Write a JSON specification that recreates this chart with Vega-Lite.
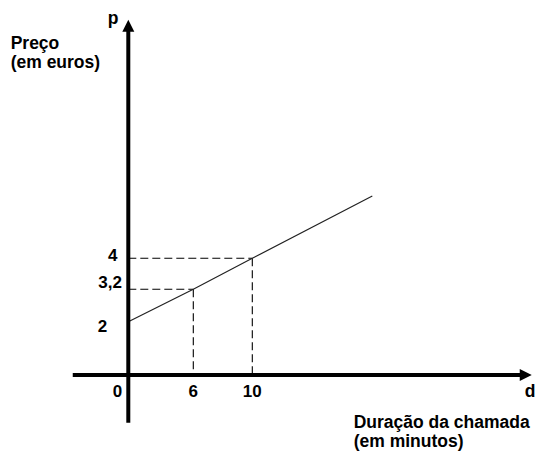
{
  "$schema": "https://vega.github.io/schema/vega-lite/v6.json",
  "width": 537,
  "height": 457,
  "padding": 0,
  "autosize": {"type": "none"},
  "background": "white",
  "config": {
    "view": {"stroke": null},
    "text": {"font": "Liberation Sans", "fontWeight": "bold", "color": "#000"}
  },
  "datasets": {
    "axes": [
      {"d": -4.33, "p": 0, "d2": 32.8, "p2": 0},
      {"d": 0, "p": -1.745, "d2": 0, "p2": 11.47}
    ],
    "guides": [
      {"d": 0, "p": 4, "d2": 10, "p2": 4},
      {"d": 10, "p": 4, "d2": 10, "p2": 0},
      {"d": 0, "p": 3.2, "d2": 6, "p2": 3.2},
      {"d": 6, "p": 3.2, "d2": 6, "p2": 0}
    ],
    "price": [
      {"d": 0, "p": 2},
      {"d": 6, "p": 3.2},
      {"d": 10, "p": 4},
      {"d": 20, "p": 6}
    ],
    "titles": [
      {"d": -9.17, "p": 10.725, "label": "Preço"},
      {"d": -9.17, "p": 10.1, "label": "(em euros)"},
      {"d": 18.45, "p": -1.94, "label": "Duração da chamada"},
      {"d": 18.45, "p": -2.63, "label": "(em minutos)"}
    ],
    "letters": [
      {"d": -1.19, "p": 11.53, "label": "p"},
      {"d": 33.14, "p": -0.8, "label": "d"}
    ]
  },
  "encoding": {
    "x": {
      "field": "d",
      "type": "quantitative",
      "axis": null,
      "scale": {"domain": [-10, 0, 6, 10, 20, 33.725], "range": [0, 128.3, 193.3, 252.3, 372.3, 537], "zero": false, "nice": false}
    },
    "y": {
      "field": "p",
      "type": "quantitative",
      "axis": null,
      "scale": {"domain": [-3, 0, 2, 3.2, 4, 6, 12.3], "range": [457, 375, 321.7, 289.3, 258.3, 196, 0], "zero": false, "nice": false}
    }
  },
  "layer": [
    {
      "data": {"name": "guides"},
      "mark": {"type": "rule", "strokeDash": [8, 4], "strokeWidth": 1.1, "color": "#000"},
      "encoding": {"x2": {"field": "d2"}, "y2": {"field": "p2"}}
    },
    {
      "data": {"name": "price"},
      "mark": {"type": "line", "strokeWidth": 1.2, "color": "#222"},
      "encoding": {}
    },
    {
      "data": {"name": "axes"},
      "mark": {"type": "rule", "strokeWidth": 4, "color": "#000"},
      "encoding": {"x2": {"field": "d2"}, "y2": {"field": "p2"}}
    },
    {
      "data": {"values": [{"d": 32.79, "p": 0}]},
      "mark": {"type": "point", "shape": "M 1 0 L -1 1 L -1 -1 Z", "size": 144, "filled": true, "color": "#000", "opacity": 1}
    },
    {
      "data": {"values": [{"d": 0, "p": 11.47}]},
      "mark": {"type": "point", "shape": "M 0 -1 L 1 1 L -1 1 Z", "size": 144, "filled": true, "color": "#000", "opacity": 1}
    },
    {
      "data": {"name": "titles"},
      "mark": {"type": "text", "align": "left", "baseline": "alphabetic", "fontSize": 17.5},
      "encoding": {"text": {"field": "label"}}
    },
    {
      "data": {"name": "letters"},
      "mark": {"type": "text", "align": "center", "baseline": "alphabetic", "fontSize": 17.5},
      "encoding": {"text": {"field": "label"}}
    },
    {
      "data": {"values": [{"d": 0, "p": 4, "label": "4"}]},
      "mark": {"type": "text", "align": "right", "baseline": "alphabetic", "fontSize": 17, "dx": -10.8, "dy": 2.4},
      "encoding": {"text": {"field": "label"}}
    },
    {
      "data": {"values": [{"d": 0, "p": 3.2, "label": "3,2"}]},
      "mark": {"type": "text", "align": "right", "baseline": "alphabetic", "fontSize": 17, "dx": -6.3, "dy": -1},
      "encoding": {"text": {"field": "label"}}
    },
    {
      "data": {"values": [{"d": 0, "p": 2, "label": "2"}]},
      "mark": {"type": "text", "align": "right", "baseline": "alphabetic", "fontSize": 17, "dx": -21, "dy": 10},
      "encoding": {"text": {"field": "label"}}
    },
    {
      "data": {"values": [{"d": 0, "p": 0, "label": "0"}]},
      "mark": {"type": "text", "align": "center", "baseline": "alphabetic", "fontSize": 17, "dx": -10.8, "dy": 21.5},
      "encoding": {"text": {"field": "label"}}
    },
    {
      "data": {"values": [{"d": 6, "p": 0, "label": "6"}, {"d": 10, "p": 0, "label": "10"}]},
      "mark": {"type": "text", "align": "center", "baseline": "alphabetic", "fontSize": 17, "dy": 21.5},
      "encoding": {"text": {"field": "label"}}
    }
  ]
}
